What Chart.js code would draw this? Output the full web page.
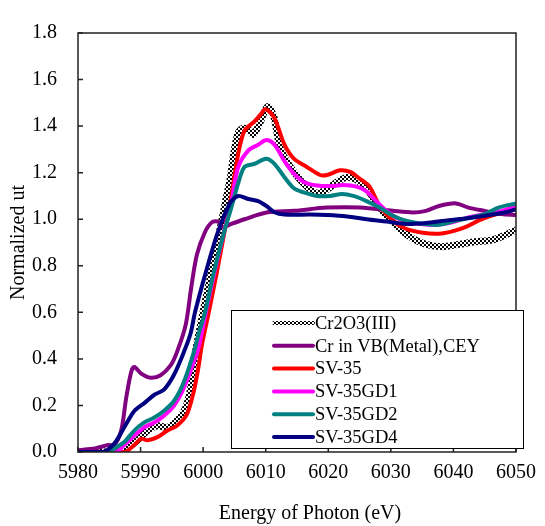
<!DOCTYPE html>
<html>
<head>
<meta charset="utf-8">
<script src="https://cdn.jsdelivr.net/npm/chart.js@4/dist/chart.umd.min.js"></script>
<style>
html, body { margin: 0; padding: 0; background: #fff; }
#wrap { width: 545px; height: 526px; position: relative; }
</style>
</head>
<body>
<div id="wrap"><canvas id="place__graph1"></canvas></div>
<script>
// series labels, in legend order
const labels = ['Cr2O3(III)', 'Cr in VB(Metal),CEY', 'SV-35', 'SV-35GD1', 'SV-35GD2', 'SV-35GD4'];
const xTitle = 'Energy of Photon (eV)';
const yTitle = 'Normalized ut';

// Cr2O3(III)
const crOxE = [5980, 5986, 5987.4, 5989.5, 5991.1, 5992.7, 5994.3, 5995.8, 5997.2, 5998, 5998.7, 5999.4, 6000.2, 6001.3, 6002.5, 6003.6, 6004.3, 6005.0, 6005.6, 6006.3, 6007.2, 6008.0, 6009.0, 6010.3, 6011.3, 6012.4, 6014.5, 6016.6, 6018.2, 6019.8, 6021.4, 6023, 6024.5, 6026.1, 6027.7, 6029.3, 6031.4, 6033.5, 6035.6, 6038.2, 6040.9, 6043.5, 6046.1, 6048.2, 6050];
const crOxV = [0, 0, 0.008, 0.05, 0.092, 0.113, 0.106, 0.134, 0.19, 0.274, 0.42, 0.52, 0.63, 0.77, 0.93, 1.08, 1.17, 1.30, 1.37, 1.39, 1.385, 1.364, 1.41, 1.484, 1.44, 1.30, 1.203, 1.14, 1.112, 1.128, 1.16, 1.18, 1.17, 1.133, 1.07, 1.015, 0.959, 0.917, 0.892, 0.882, 0.892, 0.903, 0.91, 0.931, 0.955];

// Cr in VB(Metal),CEY
const crMetE = [5980, 5982.7, 5984.8, 5985.8, 5986.9, 5987.7, 5988.5, 5989, 5990.1, 5991.6, 5993.2, 5994.8, 5995.8, 5997.2, 5998.1, 5999.0, 6000.3, 6001.4, 6002.4, 6003.2, 6004.5, 6006.6, 6010.3, 6014.5, 6019.8, 6025.1, 6030.3, 6033.5, 6035.6, 6037.7, 6040.4, 6042.4, 6045, 6047.7, 6050];
const crMetV = [0.008, 0.015, 0.03, 0.03, 0.092, 0.232, 0.344, 0.365, 0.337, 0.319, 0.33, 0.372, 0.428, 0.545, 0.707, 0.847, 0.945, 0.987, 0.99, 0.966, 0.98, 1.0, 1.03, 1.036, 1.05, 1.05, 1.036, 1.029, 1.036, 1.057, 1.068, 1.05, 1.036, 1.022, 1.018];

// SV-35
const sv35E = [5980, 5987.4, 5989, 5990.1, 5991.1, 5992.7, 5994.3, 5995.8, 5997.4, 5998.5, 5999.3, 5999.8, 6000.9, 6002.1, 6003.3, 6004.5, 6005.6, 6006.6, 6008.2, 6009.2, 6010, 6011.4, 6013, 6014.5, 6016.6, 6018.7, 6019.8, 6021.9, 6023.5, 6025, 6026.6, 6028.2, 6030.3, 6032.4, 6035.1, 6037.7, 6039.8, 6041.9, 6044, 6046.1, 6048.2, 6050];
const sv35V = [0, 0, 0.03, 0.057, 0.05, 0.064, 0.092, 0.113, 0.162, 0.26, 0.372, 0.46, 0.6, 0.76, 0.93, 1.10, 1.28, 1.38, 1.42, 1.45, 1.473, 1.434, 1.32, 1.26, 1.224, 1.19, 1.19, 1.21, 1.203, 1.175, 1.14, 1.057, 0.994, 0.959, 0.942, 0.938, 0.948, 0.966, 0.994, 1.015, 1.036, 1.064];

// SV-35GD1
const gd1E = [5980, 5986, 5987.4, 5989, 5990.6, 5992.2, 5993.7, 5995.3, 5996.9, 5998.5, 5999.2, 6000.6, 6001.8, 6003.2, 6004.5, 6005.6, 6007.2, 6008.8, 6010.1, 6011.4, 6013, 6014.5, 6016.1, 6018.2, 6020.9, 6022.4, 6024.5, 6026.1, 6027.2, 6029.3, 6031.4, 6034.5, 6037.1, 6039.8, 6042.4, 6045, 6047.7, 6050];
const gd1V = [0, 0, 0.03, 0.07, 0.106, 0.127, 0.155, 0.197, 0.274, 0.386, 0.44, 0.62, 0.77, 0.93, 1.07, 1.224, 1.295, 1.32, 1.34, 1.32, 1.25, 1.196, 1.16, 1.145, 1.143, 1.147, 1.14, 1.12, 1.09, 1.036, 1.0, 0.98, 0.976, 0.987, 1.008, 1.022, 1.036, 1.057];

// SV-35GD2
const gd2E = [5980, 5985, 5985.8, 5987.4, 5989, 5990.6, 5992.2, 5993.7, 5995.3, 5996.9, 5998.5, 5999.3, 6000.3, 6001.6, 6003.2, 6004.5, 6005.6, 6006.6, 6008.2, 6010.1, 6011.4, 6013, 6014.5, 6016.1, 6018.2, 6020.3, 6022.2, 6024, 6026.1, 6028.2, 6030.3, 6032.4, 6035.1, 6037.7, 6040.4, 6043, 6045, 6047.2, 6050];
const gd2V = [0, 0, 0.015, 0.043, 0.092, 0.127, 0.148, 0.176, 0.218, 0.30, 0.428, 0.51, 0.6, 0.76, 0.93, 1.05, 1.154, 1.224, 1.238, 1.26, 1.238, 1.18, 1.133, 1.115, 1.10, 1.10, 1.108, 1.10, 1.078, 1.05, 1.015, 0.994, 0.98, 0.976, 0.994, 1.008, 1.022, 1.05, 1.068];

// SV-35GD4
const gd4E = [5980, 5984, 5985.8, 5987.4, 5989, 5990.6, 5992.2, 5993.7, 5995.3, 5996.9, 5998, 5998.7, 6000.3, 6002.3, 6004.3, 6005.6, 6007.2, 6008.8, 6010.1, 6011.4, 6013, 6017.1, 6019.8, 6023, 6026.1, 6029.3, 6032.4, 6035.6, 6038.7, 6041.9, 6045, 6048.2, 6050];
const gd4V = [0, 0, 0.036, 0.106, 0.176, 0.21, 0.246, 0.267, 0.33, 0.428, 0.51, 0.6, 0.76, 0.94, 1.07, 1.10, 1.087, 1.078, 1.057, 1.03, 1.02, 1.02, 1.018, 1.012, 1.0, 0.99, 0.98, 0.984, 0.994, 1.003, 1.015, 1.029, 1.043];

const xTicks = [5980, 5990, 6000, 6010, 6020, 6030, 6040, 6050];
const yTicks = [0, 0.2, 0.4, 0.6, 0.8, 1.0, 1.2, 1.4, 1.6, 1.8];

const FONT = "'Liberation Serif', 'Times New Roman', serif";

// black/white checker used for the Cr2O3 line
function checker() {
    const c = document.createElement('canvas');
    c.width = 4; c.height = 4;
    const g = c.getContext('2d');
    g.fillStyle = '#fff'; g.fillRect(0, 0, 4, 4);
    g.fillStyle = '#000'; g.fillRect(0, 0, 2, 2); g.fillRect(2, 2, 2, 2);
    return g.createPattern(c, 'repeat');
}

function pts(xs, ys) {
    return xs.map((x, i) => ({x: x, y: ys[i]}));
}

const ctx = document.getElementById('place__graph1').getContext('2d');
const pattern = checker();

const series = [
    {e: crOxE, v: crOxV, color: pattern, width: 7, legendWidth: 4},
    {e: crMetE, v: crMetV, color: '#800080', width: 4},
    {e: sv35E, v: sv35V, color: '#ff0000', width: 4},
    {e: gd1E, v: gd1V, color: '#ff00ff', width: 4},
    {e: gd2E, v: gd2V, color: '#008080', width: 4},
    {e: gd4E, v: gd4V, color: '#000080', width: 4}
];

// frame, inward ticks, x title and the legend box inside the plot
const boxLegend = {
    id: 'boxLegend',
    afterDatasetsDraw(chart) {
        const {ctx, chartArea: a, scales} = chart;
        ctx.save();
        ctx.strokeStyle = '#222';
        ctx.lineWidth = 1.5;
        ctx.strokeRect(a.left, a.top, a.right - a.left, a.bottom - a.top);
        ctx.beginPath();
        scales.x.ticks.forEach(t => {
            const px = scales.x.getPixelForValue(t.value);
            ctx.moveTo(px, a.bottom); ctx.lineTo(px, a.bottom - 5);
        });
        scales.y.ticks.forEach(t => {
            const py = scales.y.getPixelForValue(t.value);
            ctx.moveTo(a.left, py); ctx.lineTo(a.left + 5, py);
        });
        ctx.stroke();

        // x axis title (sits a bit right of the plot centre)
        ctx.fillStyle = '#000';
        ctx.font = '20px ' + FONT;
        ctx.textAlign = 'center';
        ctx.textBaseline = 'middle';
        ctx.fillText(xTitle, 310, 514);

        // legend
        const bx = 231, by = 310, bw = 292, bh = 138;
        ctx.fillStyle = '#fff';
        ctx.fillRect(bx, by, bw, bh);
        ctx.strokeStyle = '#000';
        ctx.lineWidth = 1;
        ctx.strokeRect(bx + 0.5, by + 0.5, bw, bh);
        ctx.font = '18.5px ' + FONT;
        ctx.textBaseline = 'middle';
        ctx.textAlign = 'left';
        chart.data.datasets.forEach((ds, i) => {
            const ry = 323 + i * 22.8;
            ctx.strokeStyle = ds.borderColor;
            ctx.lineWidth = series[i].legendWidth || 4;
            ctx.lineCap = 'round';
            ctx.beginPath();
            ctx.moveTo(274, ry); ctx.lineTo(313, ry);
            ctx.stroke();
            ctx.fillStyle = '#000';
            ctx.fillText(ds.label, 315, ry + 1);
        });
        ctx.restore();
    }
};

const chart = new Chart(ctx, {
    type: 'line',
    data: {
        datasets: series.map((s, i) => ({
            label: labels[i],
            data: pts(s.e, s.v),
            borderColor: s.color,
            backgroundColor: s.color,
            borderWidth: s.width,
            pointRadius: 0,
            tension: 0.3,
            fill: false,
            order: series.length - i
        }))
    },
    options: {
        responsive: true,
        maintainAspectRatio: false,
        animation: false,
        events: [],
        layout: {padding: {top: 23, right: 24, left: 0, bottom: 0}},
        plugins: {
            legend: {display: false},
            tooltip: {enabled: false}
        },
        scales: {
            x: {
                type: 'linear',
                min: 5980,
                max: 6050,
                afterFit: s => { s.height = 74; },
                afterBuildTicks: s => { s.ticks = xTicks.map(v => ({value: v})); },
                grid: {display: false, drawTicks: false},
                border: {display: false},
                ticks: {
                    padding: 9,
                    maxRotation: 0,
                    color: '#000',
                    font: {family: FONT, size: 20},
                    callback: v => String(v)
                },
                title: {display: false}
            },
            y: {
                min: 0,
                max: 1.8,
                afterFit: s => { s.width = 78; },
                afterBuildTicks: s => { s.ticks = yTicks.map(v => ({value: v})); },
                grid: {display: false, drawTicks: false},
                border: {display: false},
                ticks: {
                    padding: 21,
                    color: '#000',
                    font: {family: FONT, size: 20},
                    callback: v => Number(v).toFixed(1)
                },
                title: {
                    display: true,
                    text: yTitle,
                    color: '#000',
                    font: {family: FONT, size: 20},
                    padding: {top: 7, bottom: 0}
                }
            }
        }
    },
    plugins: [boxLegend]
});
</script>
</body>
</html>
